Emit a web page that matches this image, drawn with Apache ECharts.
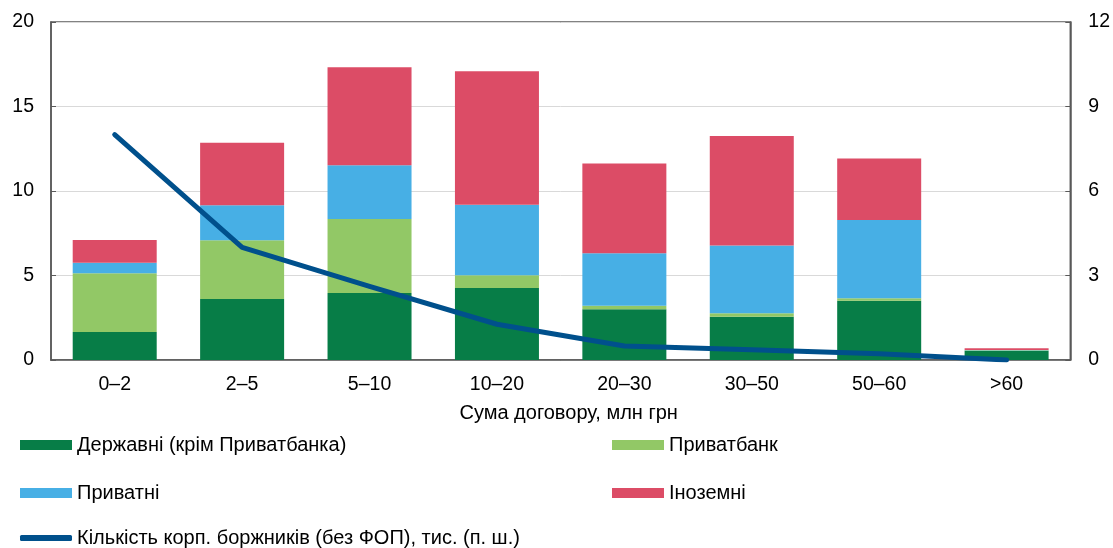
<!DOCTYPE html>
<html>
<head>
<meta charset="utf-8">
<script src="https://cdn.jsdelivr.net/npm/echarts@6/dist/echarts.min.js"></script>
<style>
  html, body { margin: 0; padding: 0; background: #fff; }
  #chart { width: 1113px; height: 548px; }
</style>
</head>
<body>
<div id="chart"></div>
<script>
// категорії: сума договору, млн грн
var categories = ["0–2", "2–5", "5–10", "10–20", "20–30", "30–50", "50–60", ">60"];
// ліва вісь
var stateBanks = [1.66, 3.61, 3.96, 4.26, 3.0, 2.56, 3.51, 0.55];
var privatBank = [3.47, 3.47, 4.38, 0.75, 0.21, 0.2, 0.14, 0.02];
var privateBanks = [0.63, 2.07, 3.18, 4.18, 3.1, 4.02, 4.63, 0.02];
var foreignBanks = [1.34, 3.71, 5.8, 7.89, 5.32, 6.47, 3.65, 0.1];
// права вісь
var borrowers = [8.0, 4.0, 2.61, 1.27, 0.5, 0.36, 0.22, 0.0];

var FONT = "'Liberation Sans', Arial, sans-serif";
var chart = echarts.init(document.getElementById("chart"));

function barSeries(name, data, color) {
    return {
        name: name,
        type: "bar",
        stack: "total",
        barWidth: 84,
        data: data,
        itemStyle: { color: color },
        emphasis: { disabled: true }
    };
}

function legendAt(name, left, top, isLine) {
    return {
        data: [name],
        left: left,
        top: top,
        padding: 0,
        itemWidth: 52,
        itemHeight: isLine ? 6 : 10,
        icon: isLine ? "roundRect" : "rect",
        selectedMode: false,
        textStyle: { fontFamily: FONT, fontSize: 20, color: "#000" }
    };
}

chart.setOption({
    animation: false,
    grid: {
        left: 51, right: 41, top: 22, bottom: 188,
        show: true, borderColor: "#595959", borderWidth: 1.5
    },
    legend: [
        legendAt("Державні (крім Приватбанка)", 20, 435),
        legendAt("Приватбанк", 612, 435),
        legendAt("Приватні", 20, 483),
        legendAt("Іноземні", 612, 483),
        legendAt("Кількість корп. боржників (без ФОП), тис. (п. ш.)", 20, 528, true)
    ],
    xAxis: {
        type: "category",
        data: categories,
        name: "Сума договору, млн грн",
        nameLocation: "middle",
        nameGap: 43,
        nameTextStyle: { fontFamily: FONT, fontSize: 20, color: "#000", padding: [0, 0, 0, 16] },
        axisLine: { lineStyle: { color: "#595959", width: 1.5 } },
        axisTick: { inside: true, length: 6, lineStyle: { color: "#595959" } },
        axisLabel: { fontFamily: FONT, fontSize: 19.5, color: "#000", margin: 15 }
    },
    yAxis: [{
        type: "value",
        min: 0, max: 20, interval: 5,
        axisLine: { show: true, lineStyle: { color: "#595959", width: 1.5 } },
        axisTick: { show: true, inside: true, length: 5, lineStyle: { color: "#595959" } },
        splitLine: { lineStyle: { color: "#d9d9d9", width: 1 } },
        axisLabel: { fontFamily: FONT, fontSize: 19.5, color: "#000", margin: 17 }
    }, {
        type: "value",
        min: 0, max: 12, interval: 3,
        axisLine: { show: true, lineStyle: { color: "#595959", width: 1.5 } },
        axisTick: { show: true, inside: true, length: 5, lineStyle: { color: "#595959" } },
        splitLine: { show: false },
        axisLabel: { fontFamily: FONT, fontSize: 19.5, color: "#000", margin: 18 }
    }],
    series: [
        barSeries("Державні (крім Приватбанка)", stateBanks, "#077d47"),
        barSeries("Приватбанк", privatBank, "#92c866"),
        barSeries("Приватні", privateBanks, "#47afe5"),
        barSeries("Іноземні", foreignBanks, "#dc4c66"),
        {
            name: "Кількість корп. боржників (без ФОП), тис. (п. ш.)",
            type: "line",
            yAxisIndex: 1,
            data: borrowers,
            symbol: "none",
            lineStyle: { color: "#00508c", width: 5, cap: "round", join: "round" },
            itemStyle: { color: "#00508c" },
            emphasis: { disabled: true }
        }
    ]
});
</script>
</body>
</html>
